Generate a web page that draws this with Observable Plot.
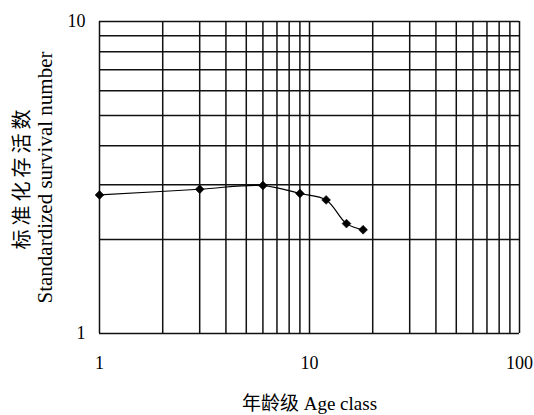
<!DOCTYPE html>
<html>
<head>
<meta charset="utf-8">
<script src="https://cdn.jsdelivr.net/npm/d3@7"></script>
<script src="https://cdn.jsdelivr.net/npm/@observablehq/plot@0.6"></script>
<style>
  html, body { margin: 0; padding: 0; background: #fff; }
  svg { display: block; }
</style>
</head>
<body>
<div id="chart"></div>
<script>
// Data
const ageClass = [1, 3, 6, 9, 12, 15, 18];
const survival = [2.78, 2.90, 2.98, 2.81, 2.68, 2.25, 2.15];

// Axis ticks / grid
const xGrid = [1, 2, 3, 4, 5, 6, 7, 8, 9, 10, 20, 30, 40, 50, 60, 70, 80, 90, 100];
const yGrid = [1, 2, 3, 4, 5, 6, 7, 8, 9, 10];
const xTicks = [1, 10, 100];
const yTicks = [1, 10];

// Labels
const xLabel = ["年龄级 Age class"];
const yLabelZh = ["标准化存活数"];
const yLabelEn = ["Standardized survival number"];

const data = ageClass.map((a, i) => ({age: a, value: survival[i]}));

const font = '"Liberation Serif", "Times New Roman", "Noto Sans CJK SC", serif';

const chart = Plot.plot({
  width: 534,
  height: 415,
  marginLeft: 99,
  marginRight: 15,
  marginTop: 21,
  marginBottom: 82,
  style: {fontFamily: font, fontSize: "18px", color: "#000", background: "#fff", overflow: "visible"},
  x: {type: "log", domain: [1, 100]},
  y: {type: "log", domain: [1, 10]},
  marks: [
    Plot.ruleX(xGrid, {stroke: "#111", strokeWidth: 1.5}),
    Plot.ruleY(yGrid, {stroke: "#111", strokeWidth: 1.5}),
    Plot.axisX({ticks: xTicks, tickSize: 0, tickPadding: 23, tickFormat: d => String(d), label: null, fontSize: 18}),
    Plot.axisY({ticks: yTicks, tickSize: 0, tickPadding: 14, tickFormat: d => String(d), label: null, fontSize: 18}),
    Plot.line(data, {x: "age", y: "value", curve: "catmull-rom", stroke: "#000", strokeWidth: 1.2}),
    Plot.dot(data, {x: "age", y: "value", symbol: "diamond2", r: 4, fill: "#000", stroke: "#000", strokeWidth: 0.5}),
    Plot.text(xLabel, {frameAnchor: "bottom", dy: 70, text: d => d, fontSize: 19, lineAnchor: "middle"}),
    Plot.text(yLabelZh, {frameAnchor: "left", dx: -77, text: d => d, rotate: -90, fontSize: 20, textAnchor: "middle", lineAnchor: "middle"}),
    Plot.text(yLabelEn, {frameAnchor: "left", dx: -54, text: d => d, rotate: -90, fontSize: 21, textAnchor: "middle", lineAnchor: "middle"})
  ]
});

// slight letter spacing on the Chinese axis title, as in the reference
d3.select(chart).selectAll("text")
  .filter(function() { return this.textContent === yLabelZh[0]; })
  .style("letter-spacing", "4px");

document.getElementById("chart").appendChild(chart);
</script>
</body>
</html>
